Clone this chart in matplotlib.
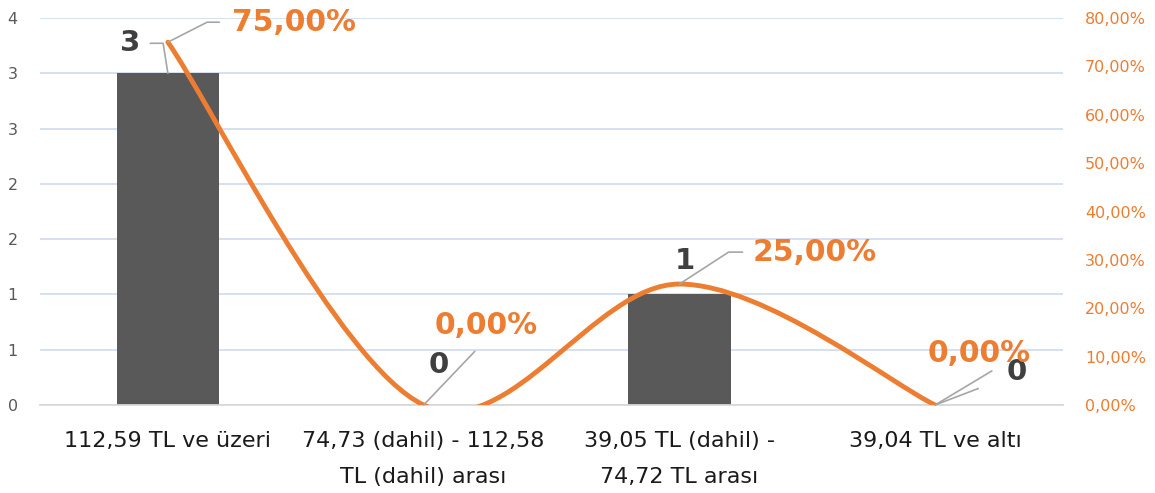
import math
import numpy as np
import matplotlib
matplotlib.use('Agg')
import matplotlib.pyplot as plt
from matplotlib.path import Path
from matplotlib.patches import PathPatch
from matplotlib.ticker import FuncFormatter, MultipleLocator

# Veriler
kategoriler = ['112,59 TL ve üzeri',
               '74,73 (dahil) - 112,58\nTL (dahil) arası',
               '39,05 TL (dahil) -\n74,72 TL arası',
               '39,04 TL ve altı']
adetler = [3, 0, 1, 0]
oranlar = [0.75, 0.0, 0.25, 0.0]

gri = '#595959'
turuncu = '#ED7D31'
izgara = '#D3DDEF'
etiket_gri = '#404040'

fig = plt.figure(figsize=(11.55, 4.93), dpi=100)
ax = fig.add_axes([40 / 1155, 88 / 493, 1023 / 1155, 387 / 493])

x = np.arange(len(kategoriler))
ax.bar(x, adetler, width=0.4, color=gri, zorder=2)
ax.set_xlim(-0.5, len(kategoriler) - 0.5)
ax.set_ylim(0, 3.5)
ax.yaxis.set_major_locator(MultipleLocator(0.5))
ax.yaxis.set_major_formatter(FuncFormatter(lambda v, p: str(int(math.floor(v + 0.5)))))
ax.grid(axis='y', color=izgara, lw=1.3, zorder=0)
ax.set_axisbelow(True)
ax.set_xticks(x)
ax.set_xticklabels(kategoriler, fontsize=16, color='#1a1a1a', linespacing=1.95)
ax.tick_params(axis='x', length=0, pad=19)
ax.tick_params(axis='y', length=0, pad=16, labelsize=11.5, labelcolor=gri)
for s in ['top', 'left', 'right']:
    ax.spines[s].set_visible(False)
ax.spines['bottom'].set_color('#D9D9D9')
ax.spines['bottom'].set_linewidth(1.3)

# Sağ eksen (yüzde)
ax2 = ax.twinx()
ax2.set_ylim(0, 0.8)
ax2.yaxis.set_major_locator(MultipleLocator(0.1))
ax2.yaxis.set_major_formatter(FuncFormatter(lambda v, p: ('%.2f%%' % (v * 100)).replace('.', ',')))
ax2.tick_params(axis='y', length=0, pad=16, labelsize=11.5, labelcolor=turuncu)
for s in ax2.spines.values():
    s.set_visible(False)

# Yumuşatılmış çizgi (Bezier)
pts = [np.array([a, b], dtype=float) for a, b in zip(x, oranlar)]
n = len(pts)
verts = [pts[0]]
codes = [Path.MOVETO]
for i in range(n - 1):
    p0 = pts[max(i - 1, 0)]
    p1 = pts[i]
    p2 = pts[i + 1]
    p3 = pts[min(i + 2, n - 1)]
    c1 = p1 + (p2 - p0) / 6
    c2 = p2 - (p3 - p1) / 6
    verts += [c1, c2, p2]
    codes += [Path.CURVE4] * 3
ax2.add_patch(PathPatch(Path(verts, codes), fill=False, edgecolor=turuncu,
                        lw=3.5, capstyle='round', joinstyle='round', zorder=3))

# Etiketler
lider = dict(arrowstyle='-', color='#A6A6A6', lw=1.2)

# adet etiketleri: (dx, dy, lider, relpos, baglanti, shrinkA)
adet_ayar = [
    (-27, 21.6, True, (1, 0.5), 'angle,angleA=0,angleB=99,rad=0', 5),
    (10.8, 28.8, False, None, None, 0),
    (3.6, 23.8, False, None, None, 0),
    (59, 23.8, True, (0, 0.3), 'arc3', 20),
]
for i, (dx, dy, ld, rp, cs, sh) in enumerate(adet_ayar):
    kw = {}
    if ld:
        kw['arrowprops'] = dict(lider, relpos=rp, connectionstyle=cs, shrinkA=sh, shrinkB=0)
    ax.annotate(str(adetler[i]), xy=(x[i], adetler[i]), xytext=(dx, dy),
                textcoords='offset points', ha='center', va='center',
                fontsize=21, fontweight='bold', color=etiket_gri, zorder=5, **kw)

oran_ayar = [
    (46, 14.4, 'left', (0, 0.5), 'angle,angleA=0,angleB=27,rad=0', 7),
    (45, 57.6, 'center', (0.5, 0), 'arc3', 9),
    (52.5, 23, 'left', (0, 0.5), 'angle,angleA=0,angleB=33,rad=0', 5),
    (32, 37, 'center', (0.8, 0), 'angle,angleA=0,angleB=31,rad=0', 0),
]
for i, (dx, dy, ha, rp, cs, sh) in enumerate(oran_ayar):
    metin = ('%.2f%%' % (oranlar[i] * 100)).replace('.', ',')
    ax2.annotate(metin, xy=(x[i], oranlar[i]), xytext=(dx, dy),
                 textcoords='offset points', ha=ha, va='center',
                 fontsize=21.5, fontweight='bold', color=turuncu, zorder=6,
                 arrowprops=dict(lider, relpos=rp, connectionstyle=cs, shrinkA=sh, shrinkB=0))

fig.savefig('out.png', dpi=100)
